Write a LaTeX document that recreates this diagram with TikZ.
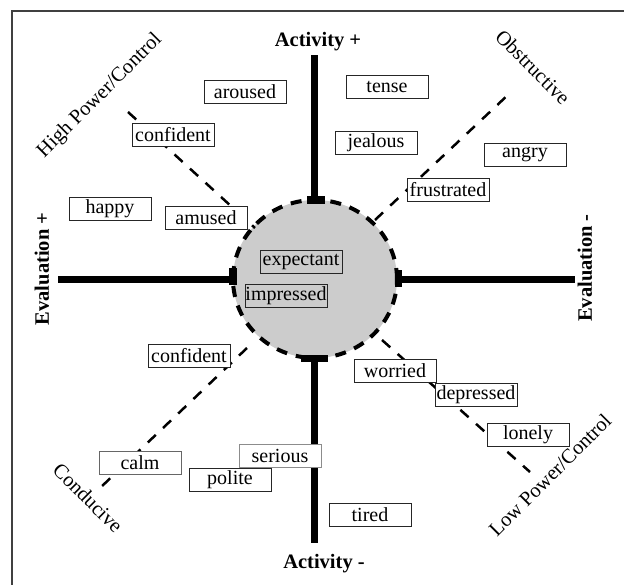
\documentclass[tikz,border=0pt]{standalone}
\usepackage{fontspec}
\setmainfont{Liberation Serif}
\begin{document}
\begin{tikzpicture}[x=1pt,y=-1pt,
  emo/.style={draw=black!85,line width=1pt,fill=white,minimum width=82pt,minimum height=23pt,inner sep=0pt,font=\fontsize{20}{20}\selectfont},
  emoin/.style={emo,fill=none},
  axisline/.style={line width=7pt},
  capbar/.style={fill=black},
  dashline/.style={line width=2.5pt,dash pattern=on 11pt off 10pt},
  axlab/.style={font=\fontsize{20.5}{21}\selectfont\bfseries},
  diaglab/.style={font=\fontsize{20.5}{21}\selectfont}]
\useasboundingbox (0,0) rectangle (624,584);
\begin{scope}
  \clip (0,0) rectangle (624,584);
  \draw[line width=1.5pt,black!75] (12,11) rectangle (640,600);
\end{scope}
% central circle
\coordinate (c) at (315,279);
\fill[black!20] (c) ellipse [x radius=82pt, y radius=79pt];
% diagonal dashed lines
\coordinate (ula) at (128,112); \coordinate (ulb) at (255,228);
\coordinate (ura) at (510,93);  \coordinate (urb) at (375,220);
\coordinate (lla) at (247,348); \coordinate (llb) at (100,488);
\coordinate (lra) at (382,340); \coordinate (lrb) at (530,472);
\draw[dashline] (ula) -- (ulb);
\draw[dashline] (urb) -- (ura);
\draw[dashline] (lla) -- (llb);
\draw[dashline] (lra) -- (lrb);
% axes
\coordinate (vt1) at (314,55);  \coordinate (vt2) at (314,200);
\coordinate (vb1) at (314,358); \coordinate (vb2) at (314,543);
\coordinate (hl1) at (58,279);  \coordinate (hl2) at (233,279);
\coordinate (hr1) at (398,279); \coordinate (hr2) at (575,279);
\draw[axisline] (vt1) -- (vt2);
\draw[axisline] (vb1) -- (vb2);
\draw[axisline] (hl1) -- (hl2);
\draw[axisline] (hr1) -- (hr2);
\fill[capbar] (307,196) rectangle (325,204);
\fill[capbar] (301,355) rectangle (328,362);
\fill[capbar] (229,268) rectangle (237,285);
\fill[capbar] (395,270) rectangle (402,287);
\draw[line width=4pt,dash pattern=on 11pt off 9pt] (c) ellipse [x radius=82pt, y radius=79pt];
% axis labels
\node[axlab] (actp) at (318,42) {Activity +};
\node[axlab] (actm) at (324,564) {Activity -};
\node[axlab,rotate=90] (evp) at (42,269) {Evaluation +};
\node[axlab,rotate=90] (evm) at (585,268) {Evaluation -};
\node[diaglab,rotate=45] (hpc) at (100,96) {High Power/Control};
\node[diaglab,rotate=-45] (obs) at (533,67) {Obstructive};
\node[diaglab,rotate=-45] (cond) at (88,498) {Conducive};
\node[diaglab,rotate=45] (lpc) at (550,475) {Low Power/Control};
% emotion boxes
\node[emo] (aroused) at (245,92) {aroused};
\node[emo] (conf1) at (173,135) {confident};
\node[emo] (happy) at (110,209) {happy};
\node[emo] (amused) at (206,218) {amused};
\node[emo] (tense) at (387,87) {tense};
\node[emo] (jealous) at (376,143) {jealous};
\node[emo] (angry) at (525,155) {angry};
\node[emo] (frustrated) at (448,190) {frustrated};
\node[emoin] (expectant) at (301,262) {expectant};
\node[emoin] (impressed) at (286,296) {impressed};
\node[emo] (conf2) at (189,356) {confident};
\node[emo,draw=black!60] (calm) at (140,463) {calm};
\node[emo,draw=black!45] (serious) at (280,456) {serious};
\node[emo] (polite) at (230,480) {polite};
\node[emo] (worried) at (395,371) {worried};
\node[emo] (depressed) at (476,395) {depressed};
\node[emo] (lonely) at (528,435) {lonely};
\node[emo] (tired) at (370,515) {tired};
\end{tikzpicture}
\end{document}
